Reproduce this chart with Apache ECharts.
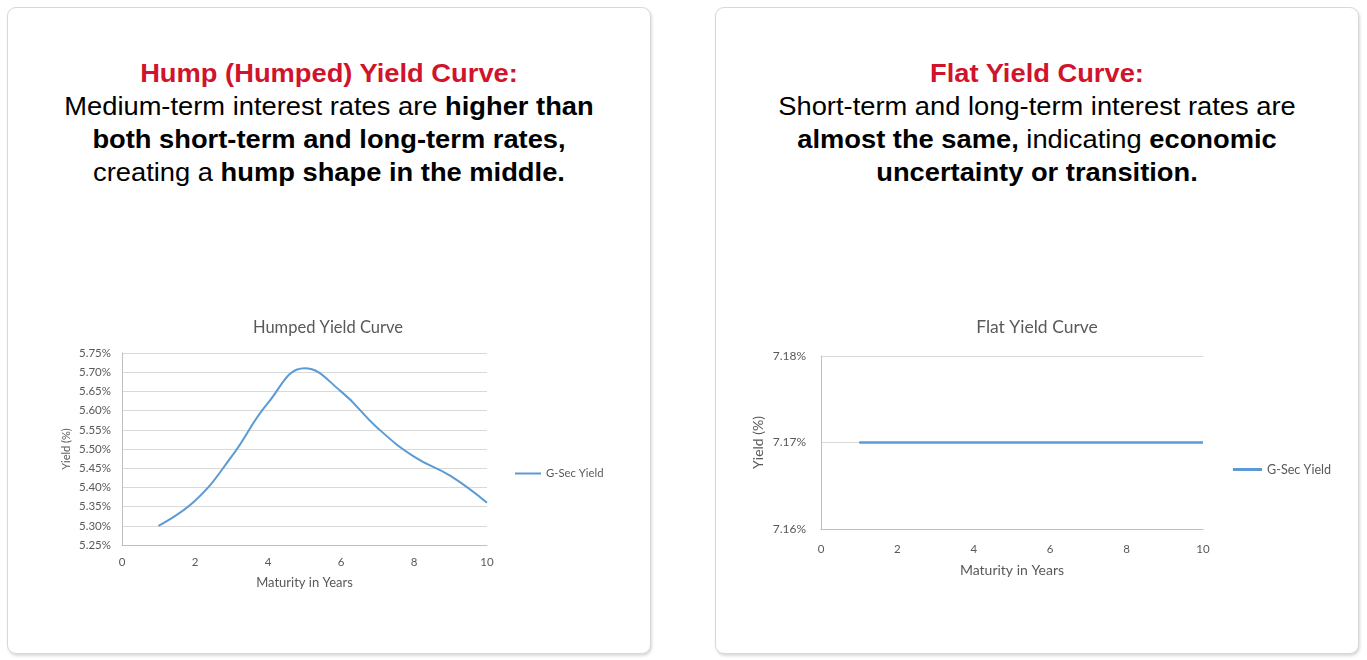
<!DOCTYPE html>
<html>
<head>
<meta charset="utf-8">
<script src="https://cdn.jsdelivr.net/npm/echarts@6/dist/echarts.min.js"></script>
<style>
  html, body { margin: 0; padding: 0; background: #ffffff; width: 1367px; height: 660px; overflow: hidden; }
  .card { position: absolute; top: 7px; width: 642px; height: 645px; background: #fff;
          border: 1px solid #d8d8d8; border-radius: 9px; box-shadow: 1px 2px 3px rgba(0,0,0,0.15); }
  .head { position: absolute; left: 0; right: 0; top: 49px; text-align: center;
          font-family: "Liberation Sans", Arial, sans-serif; font-size: 25px; line-height: 33px; color: #000;
          transform: scaleX(1.092); transform-origin: 50% 0; }
  .head .t { color: #d0142c; font-weight: bold; }
  .head b { font-weight: bold; }
  #chart { position: absolute; left: 0; top: 0; width: 1367px; height: 660px; }
</style>
</head>
<body>
<div class="card" style="left:7px;">
  <div class="head"><span class="t">Hump (Humped) Yield Curve:</span><br>Medium-term interest rates are <b>higher than<br>both short-term and long-term rates,</b><br>creating a <b>hump shape in the middle.</b></div>
</div>
<div class="card" style="left:715px;">
  <div class="head"><span class="t">Flat Yield Curve:</span><br>Short-term and long-term interest rates are<br><b>almost the same,</b> indicating <b>economic<br>uncertainty or transition.</b></div>
</div>
<div id="chart"></div>
<script>
const maturities = [1, 2, 3, 4, 5, 6, 7, 8, 9, 10];
const humpYields = [5.30, 5.365, 5.48, 5.62, 5.71, 5.65, 5.555, 5.48, 5.43, 5.36];
const flatYields = [7.17, 7.17, 7.17, 7.17, 7.17, 7.17, 7.17, 7.17, 7.17, 7.17];
const seriesName = 'G-Sec Yield';
const chartTitles = ['Humped Yield Curve', 'Flat Yield Curve'];
const xAxisName = 'Maturity in Years';
const yAxisName = 'Yield (%)';

const FONT = 'Lato, "Open Sans", sans-serif';
const GREY = '#595959';
const LINE = '#5b9bd5';

const chart = echarts.init(document.getElementById('chart'), null, { renderer: 'canvas' });

function xAxisCfg(gridIndex, gap, nameSize, margin) {
  return {
    gridIndex, type: 'value', min: 0, max: 10, interval: 2,
    name: xAxisName, nameLocation: 'middle', nameGap: gap,
    nameTextStyle: { color: GREY, fontSize: nameSize, fontFamily: FONT },
    axisLine: { show: true, lineStyle: { color: '#bfbfbf', width: 1 } },
    axisTick: { show: false },
    axisLabel: { color: GREY, fontSize: 11.5, fontFamily: FONT, margin: margin },
    splitLine: { show: false }
  };
}

const option = {
  animation: false,
  title: [
    { text: chartTitles[0], left: 323, top: 314, textAlign: 'center',
      textStyle: { color: GREY, fontSize: 16.5, fontWeight: 'normal', fontFamily: FONT } },
    { text: chartTitles[1], left: 1032, top: 313, textAlign: 'center',
      textStyle: { color: GREY, fontSize: 17.5, fontWeight: 'normal', fontFamily: FONT } }
  ],
  legend: [
    { data: [seriesName], left: 515, top: 468, padding: 0, itemWidth: 26, itemHeight: 2, itemGap: 4,
      icon: 'rect', textStyle: { color: GREY, fontSize: 11.3, fontFamily: FONT, padding: [0,0,0,0] },
      selectedMode: false },
    { data: [seriesName + ' '], left: 1233, top: 463, padding: 0, itemWidth: 29, itemHeight: 3, itemGap: 4,
      icon: 'rect', textStyle: { color: GREY, fontSize: 12.6, fontFamily: FONT, padding: [0,0,0,0] },
      selectedMode: false }
  ],
  grid: [
    { left: 122, right: 1367 - 487, top: 353, bottom: 660 - 545 },
    { left: 821, right: 1367 - 1203, top: 356, bottom: 660 - 529 }
  ],
  xAxis: [ xAxisCfg(0, 31, 13, 11), xAxisCfg(1, 34, 14, 14) ],
  yAxis: [
    { gridIndex: 0, type: 'value', min: 5.25, max: 5.75, interval: 0.05,
      name: yAxisName, nameLocation: 'middle', nameGap: 50, nameRotate: 90,
      nameTextStyle: { color: GREY, fontSize: 11, fontFamily: FONT },
      axisLine: { show: true, lineStyle: { color: '#bfbfbf' } }, axisTick: { show: false },
      axisLabel: { color: GREY, fontSize: 11.5, fontFamily: FONT, margin: 11,
        formatter: v => v.toFixed(2) + '%' },
      splitLine: { show: true, lineStyle: { color: '#d9d9d9', width: 1 } } },
    { gridIndex: 1, type: 'value', min: 7.16, max: 7.18, interval: 0.01,
      name: yAxisName, nameLocation: 'middle', nameGap: 56, nameRotate: 90,
      nameTextStyle: { color: GREY, fontSize: 14, fontFamily: FONT },
      axisLine: { show: true, lineStyle: { color: '#bfbfbf' } }, axisTick: { show: false },
      axisLabel: { color: GREY, fontSize: 12, fontFamily: FONT, margin: 15,
        formatter: v => v.toFixed(2) + '%' },
      splitLine: { show: true, lineStyle: { color: '#d9d9d9', width: 1 } } }
  ],
  series: [
    { name: seriesName, type: 'line', xAxisIndex: 0, yAxisIndex: 0,
      data: maturities.map((m, i) => [m, humpYields[i]]),
      smooth: 0.45, showSymbol: false, symbol: 'none',
      lineStyle: { color: LINE, width: 2 }, itemStyle: { color: LINE } },
    { name: seriesName + ' ', type: 'line', xAxisIndex: 1, yAxisIndex: 1,
      data: maturities.map((m, i) => [m, flatYields[i]]),
      showSymbol: false, symbol: 'none',
      lineStyle: { color: LINE, width: 2.5 }, itemStyle: { color: LINE } }
  ]
};
chart.setOption(option);
</script>
</body>
</html>
